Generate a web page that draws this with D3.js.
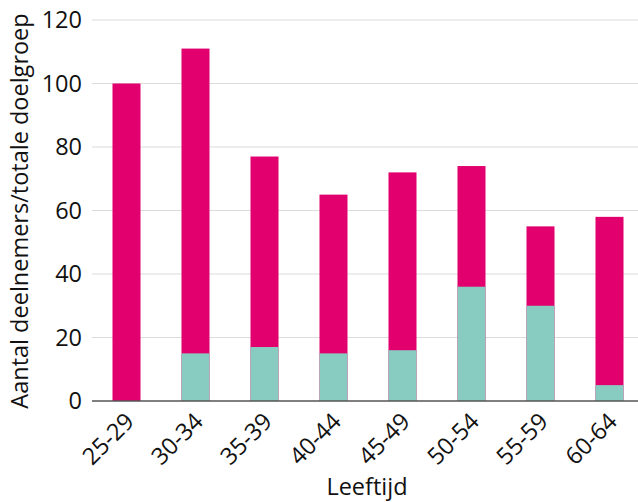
<!DOCTYPE html>
<html><head><meta charset="utf-8">
<script src="https://cdn.jsdelivr.net/npm/d3@7"></script>
<style>body{margin:0;background:#fff}svg{display:block}text{font-family:"Open Sans",sans-serif}</style>
</head><body>
<svg id="c" width="638" height="502"></svg>
<script>
const categories = ["25-29","30-34","35-39","40-44","45-49","50-54","55-59","60-64"];
const totaleDoelgroep = [100,111,77,65,72,74,55,58];
const deelnemers = [0,15,17,15,16,36,30,5];
const yTicks = [0,20,40,60,80,100,120];

(function(){
const svg = d3.select("#c");
const mLeft = 92, mRight = 644, mTop = 20, mBottom = 401;
const FS = 23.5;
const x = d3.scaleBand().domain(categories).range([mLeft,mRight]).paddingInner(0.594).paddingOuter(0.297);
const y = d3.scaleLinear().domain([0,120]).range([mBottom, mTop]);

// grid
svg.append("g").selectAll("line").data(yTicks.filter(d=>d>0)).join("line")
  .attr("x1",mLeft).attr("x2",638).attr("y1",d=>y(d)).attr("y2",d=>y(d))
  .attr("stroke","#dcdcdc").attr("stroke-width",1.2);

// bars
svg.append("g").selectAll("rect").data(categories).join("rect")
  .attr("x",d=>x(d)).attr("width",x.bandwidth())
  .attr("y",(d,i)=>y(totaleDoelgroep[i])).attr("height",(d,i)=>y(0)-y(totaleDoelgroep[i]))
  .attr("fill","#e1006d");
svg.append("g").selectAll("rect").data(categories).join("rect")
  .attr("x",d=>x(d)).attr("width",x.bandwidth())
  .attr("y",(d,i)=>y(deelnemers[i])).attr("height",(d,i)=>y(0)-y(deelnemers[i]))
  .attr("fill","#88cbc0");

// y axis
const ya = svg.append("g").attr("transform",`translate(${mLeft},0)`)
  .call(d3.axisLeft(y).tickValues(yTicks).tickSize(0).tickPadding(10));
ya.select(".domain").remove();
ya.selectAll("text").attr("font-size",FS).attr("fill","#111").style("font-family","'Open Sans',sans-serif");

// x axis
const xa = svg.append("g").attr("transform",`translate(0,${mBottom})`)
  .call(d3.axisBottom(x).tickSize(0).tickPadding(8));
xa.select(".domain").attr("d",`M${mLeft},0H638`).attr("stroke","#555").attr("stroke-width",1.5);
xa.selectAll("text").attr("font-size",FS).attr("fill","#111").style("font-family","'Open Sans',sans-serif")
  .attr("text-anchor","end").attr("x",0).attr("y",0).attr("dy",null)
  .attr("transform","translate(9,22) rotate(-45)");

// titles
svg.append("text").attr("x",367).attr("y",495).attr("text-anchor","middle")
  .attr("font-size",FS).attr("fill","#111").text("Leeftijd");
svg.append("text").attr("transform","translate(28,211) rotate(-90)").attr("text-anchor","middle")
  .attr("font-size",FS).attr("fill","#111").text("Aantal deelnemers/totale doelgroep");
})();
</script>
</body></html>
